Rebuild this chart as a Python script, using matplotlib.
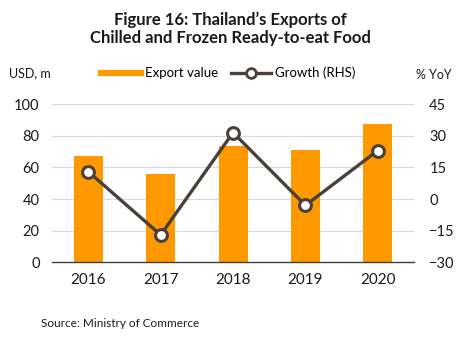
import numpy as np
import matplotlib
matplotlib.use("Agg")
from matplotlib import pyplot as plt
from matplotlib.lines import Line2D

years = ["2016", "2017", "2018", "2019", "2020"]
export_value = [67, 56, 73.5, 71, 87.5]
growth = [13, -17, 31.5, -3, 23]
left_ticks = [0, 20, 40, 60, 80, 100]
right_ticks = [-30, -15, 0, 15, 30, 45]

orange = "#FF9900"
dark = "#4B3F3B"
txt = "#1a1a1a"

plt.rcParams['font.family'] = ['Lato', 'DejaVu Sans']

fig = plt.figure(figsize=(4.61, 3.39), dpi=100)
ax = fig.add_axes([0.113, 0.226, 0.785, 0.467])
x = np.arange(len(years))

ax.bar(x, export_value, width=0.4, color=orange, zorder=2)
ax.set_ylim(0, 100)
ax.set_xlim(-0.5, len(years) - 0.5)
ax.set_yticks(left_ticks)
ax.yaxis.grid(True, color="#d9d9d9", linewidth=0.8, zorder=0)
ax.set_axisbelow(True)
for s in ["top", "right", "left"]:
    ax.spines[s].set_visible(False)
ax.spines["bottom"].set_color("#404040")
ax.spines["bottom"].set_linewidth(1.0)
ax.set_xticks(x)
ax.set_xticklabels(years)
ax.tick_params(axis="both", length=0, labelsize=10.5, colors=txt)
ax.tick_params(axis="x", labelsize=11, pad=8)
ax.tick_params(axis="y", pad=9)

ax2 = ax.twinx()
ax2.plot(x, growth, color=dark, linewidth=2.4, marker="o", markersize=8.5,
         markerfacecolor="white", markeredgecolor=dark, markeredgewidth=2.2, zorder=3)
ax2.set_ylim(-30, 45)
ax2.set_yticks(right_ticks)
for s in ["top", "right", "left", "bottom"]:
    ax2.spines[s].set_visible(False)
ax2.tick_params(axis="y", length=0, labelsize=10.5, colors=txt, pad=11)

fig.text(0.5, 0.915, "Figure 16: Thailand\u2019s Exports of\nChilled and Frozen Ready-to-eat Food",
         ha="center", va="center", fontsize=12, fontweight="bold", color=txt, linespacing=1.2)
fig.text(0.02, 0.785, "USD, m", ha="left", va="center", fontsize=9, color=txt)
fig.text(0.98, 0.78, "% YoY", ha="right", va="center", fontsize=9, color=txt)
fig.text(0.09, 0.045, "Source: Ministry of Commerce", ha="left", va="center", fontsize=8.5, color=txt)

handles = [Line2D([0], [0], color=orange, linewidth=4.5),
           Line2D([0], [0], color=dark, linewidth=2.4, marker="o", markersize=7,
                  markerfacecolor="white", markeredgecolor=dark, markeredgewidth=2)]
fig.legend(handles, ["Export value", "Growth (RHS)"], loc="center", bbox_to_anchor=(0.495, 0.785),
           ncol=2, frameon=False, fontsize=9.5, handlelength=3.0, handletextpad=0.3,
           columnspacing=1.0)

fig.savefig("out.png", dpi=100)
